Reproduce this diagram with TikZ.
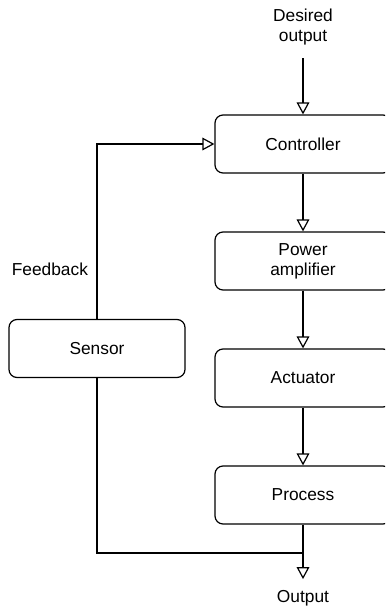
\documentclass[tikz,border=0pt]{standalone}
\usepackage{fontspec}
\setmainfont{Liberation Sans}
\usetikzlibrary{arrows.meta}
\tikzset{
  block/.style={draw,rounded corners=6pt,minimum width=132pt,minimum height=43.5pt,align=center,font=\fontsize{13}{15}\selectfont},
  lbl/.style={align=center,font=\fontsize{13}{15}\selectfont},
  flow/.style={-{Triangle[open,length=9pt,width=9.5pt]}}
}
\begin{document}
\begin{tikzpicture}[x=0.75pt,y=-0.75pt,line width=0.9pt]
            \path[use as bounding box] (0,0) rectangle (385,606);
            \clip (0,0) rectangle (385,606);
            \node[block] (ctrl) at (303,144) {Controller};
            \node[block] (amp) at (303,261) {Power\\amplifier};
            \node[block] (act) at (303,378) {Actuator};
            \node[block] (proc) at (303,495) {Process};
            \node[block] (sensor) at (97,348.5) {Sensor};
            \node[lbl] (desired) at (303,27) {Desired\\output};
            \node[lbl] (out) at (303,598) {Output};
            \node[lbl,anchor=east] (fb) at (93,269) {Feedback};
            \coordinate (split) at (303,553);
            \draw[flow,shorten <=6pt] (desired) -- (ctrl);
            \draw[flow] (ctrl) -- (amp);
            \draw[flow] (amp) -- (act);
            \draw[flow] (act) -- (proc);
            \draw[flow,shorten >=4.5pt] (proc) -- (out);
            \draw (split) -| (sensor);
            \draw[flow] (sensor) |- (ctrl);
        \end{tikzpicture}
\end{document}
